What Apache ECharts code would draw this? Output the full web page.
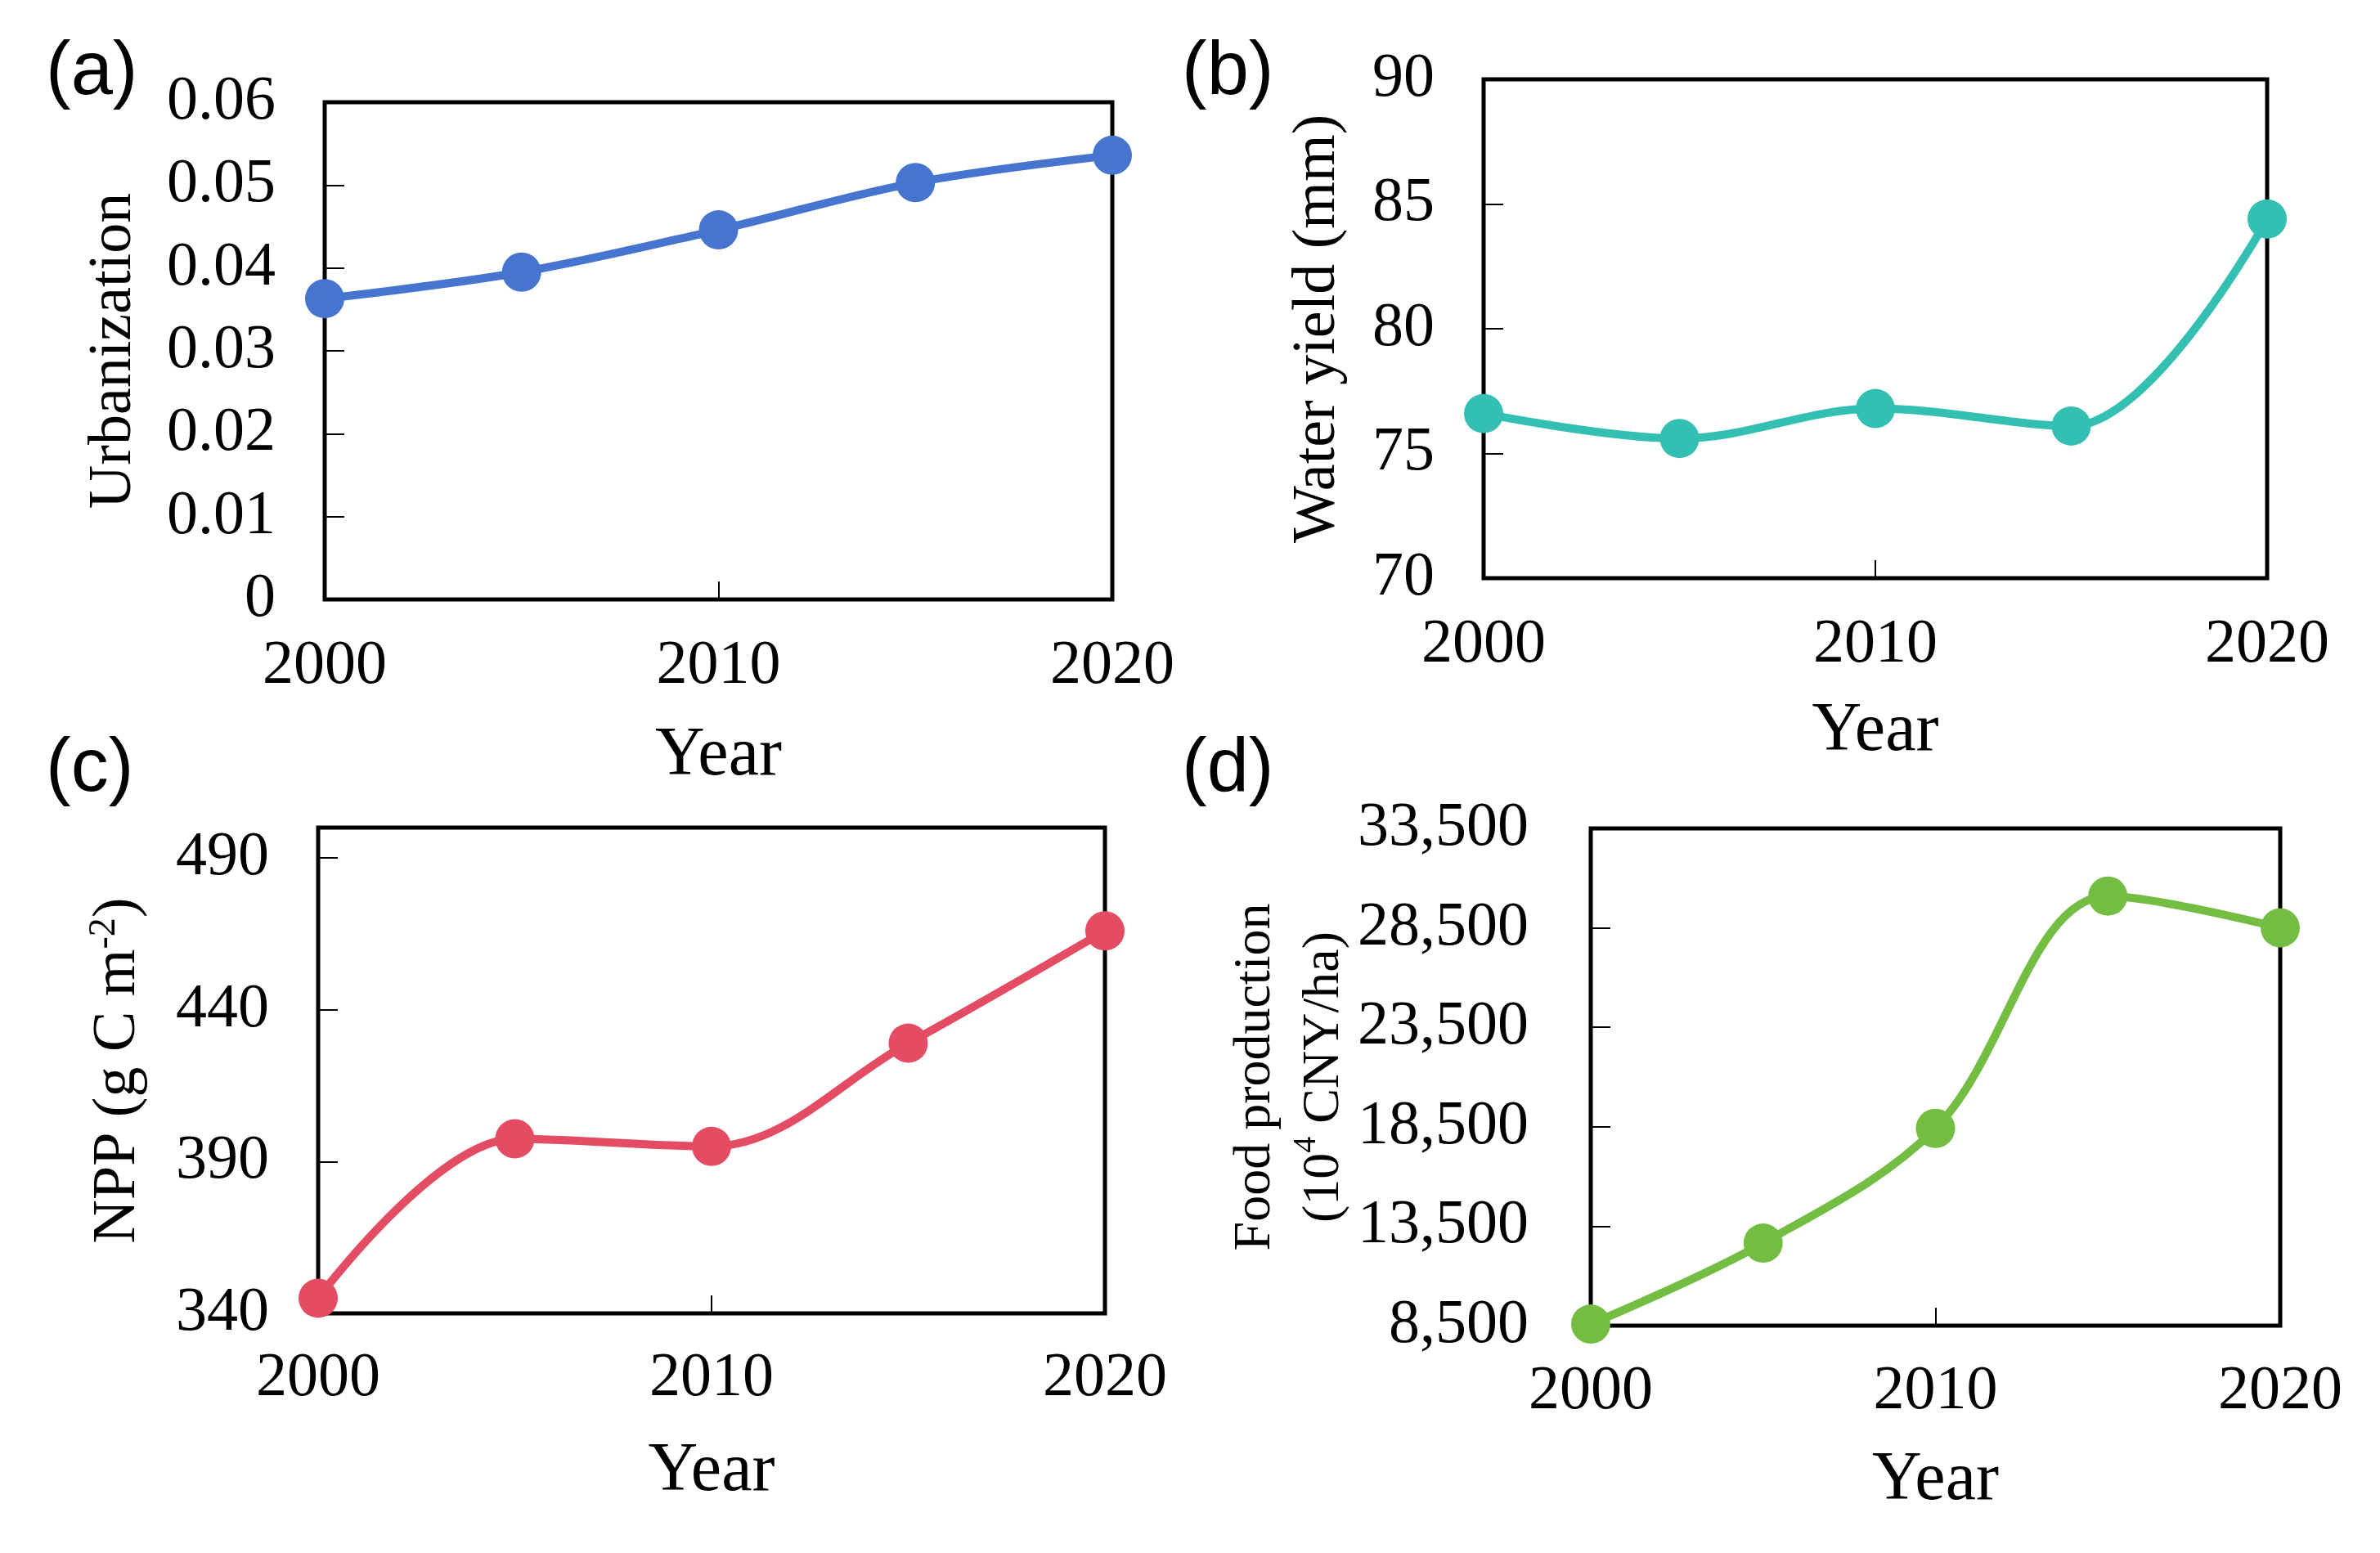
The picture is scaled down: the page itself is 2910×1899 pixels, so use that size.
<!DOCTYPE html>
<html>
<head>
<meta charset="utf-8">
<script src="https://cdn.jsdelivr.net/npm/echarts@6/dist/echarts.min.js"></script>
<style>
  html, body { margin: 0; padding: 0; background: #fff; }
  #main { width: 2910px; height: 1899px; }
</style>
</head>
<body>
<div id="main"></div>
<script>
// data
const years = [2000, 2005, 2010, 2015, 2020]
const urbanization = [0.0363, 0.0395, 0.0446, 0.0503, 0.0536]
const waterYield = [76.6, 75.6, 76.8, 76.1, 84.4]
const npp = [345, 397.5, 395, 429, 466]
const foodProduction = [8580, 12650, 18420, 30100, 28500]
const panelTags = ['(a)', '(b)', '(c)', '(d)']

const serif = '"Times New Roman", "Liberation Serif", serif'
const sans = 'Arial, "Liberation Sans", sans-serif'

// one entry per panel: box, axis range, name, colours
const panels = [
  {
    box: [397, 125, 963, 608], vals: urbanization, color: '#4674CE',
    min: 0, max: 0.06, step: 0.01, labMargin: 60, hideMax: false,
    name: 'Urbanization', nameGap: 220, xGap: 150, xMargin: 44,
  },
  {
    box: [1814, 97, 958, 610], vals: waterYield, color: '#33BFB2',
    min: 70, max: 90, step: 5, labMargin: 60, hideMax: false,
    name: 'Water yield (mm)', nameGap: 165, xGap: 146, xMargin: 44,
  },
  {
    box: [389, 1012, 962, 594], vals: npp, color: '#E34C62',
    min: 340, max: 500, step: 50, labMargin: 60, hideMax: true,
    name: '{t|NPP (g C m}{s|-2}{t|)}', nameGap: 204, xGap: 152, xMargin: 42,
  },
  {
    box: [1945, 1013, 843, 608], vals: foodProduction, color: '#73BD42',
    min: 8500, max: 33500, step: 5000, labMargin: 76, hideMax: false,
    name: '{f|Food production}\n{f|(10}{fs|4}{f| CNY/ha)}', nameGap: 284, xGap: 148, xMargin: 43,
  },
]
const tagPos = [[56, 44], [1445, 44], [56, 896], [1445, 896]]

const grid = [], xAxis = [], yAxis = [], series = []
panels.forEach((p, i) => {
  grid.push({
    left: p.box[0], top: p.box[1], width: p.box[2], height: p.box[3],
    show: true, borderColor: '#000', borderWidth: 5, containLabel: false,
  })
  xAxis.push({
    gridIndex: i, type: 'value', min: 2000, max: 2020, interval: 10,
    axisLine: { show: false },
    axisTick: { inside: true, length: 22, lineStyle: { color: '#000', width: 2 } },
    splitLine: { show: false },
    axisLabel: {
      margin: p.xMargin, fontSize: 76, color: '#000', fontFamily: serif,
      formatter: v => String(v),
    },
    name: 'Year', nameLocation: 'middle', nameGap: p.xGap, nameMoveOverlap: false,
    nameTextStyle: { fontSize: 84, color: '#000', fontFamily: serif },
  })
  yAxis.push({
    gridIndex: i, type: 'value', min: p.min, max: p.max, interval: p.step,
    axisLine: { show: false },
    axisTick: { inside: true, length: 24, lineStyle: { color: '#000', width: 2 } },
    splitLine: { show: false },
    axisLabel: {
      margin: p.labMargin, fontSize: 76, color: '#000', fontFamily: serif,
      formatter: v => (p.hideMax && v >= p.max) ? '' :
        (p.step >= 1000 ? v.toLocaleString('en-US') : String(+v.toFixed(4))),
    },
    name: p.name, nameLocation: 'middle', nameGap: p.nameGap, nameMoveOverlap: false,
    nameTextStyle: {
      fontSize: 74, color: '#000', fontFamily: serif,
      rich: {
        t: { fontSize: 74, lineHeight: 80, fontFamily: serif, color: '#000' },
        s: { fontSize: 46, lineHeight: 80, verticalAlign: 'top', fontFamily: serif, color: '#000' },
        f: { fontSize: 64, lineHeight: 84, fontFamily: serif, color: '#000' },
        fs: { fontSize: 40, lineHeight: 84, verticalAlign: 'top', fontFamily: serif, color: '#000' },
      },
    },
  })
  series.push({
    type: 'line', xAxisIndex: i, yAxisIndex: i, smooth: 0.35,
    symbol: 'circle', symbolSize: 48, clip: false,
    lineStyle: { width: 10, color: p.color },
    itemStyle: { color: p.color },
    data: years.map((y, k) => [y, p.vals[k]]),
  })
})

const myChart = echarts.init(document.getElementById('main'))
myChart.setOption({
  backgroundColor: '#fff',
  animation: false,
  grid, xAxis, yAxis, series,
  graphic: panelTags.map((t, i) => ({
    type: 'text', left: tagPos[i][0], top: tagPos[i][1],
    style: { text: t, fontSize: 92, fontFamily: sans, fill: '#000' },
  })),
})
</script>
</body>
</html>
